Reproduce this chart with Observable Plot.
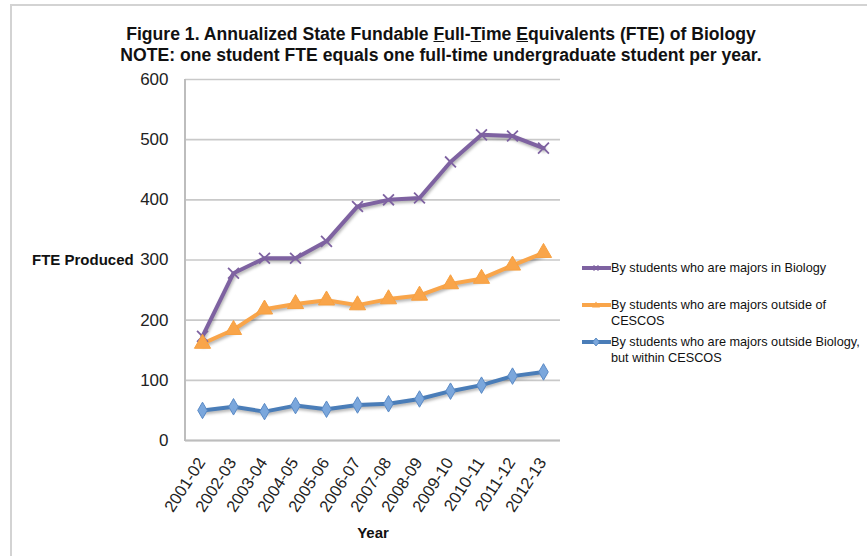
<!DOCTYPE html>
<html><head><meta charset="utf-8">
<script src="https://cdn.jsdelivr.net/npm/d3@7"></script>
<script src="https://cdn.jsdelivr.net/npm/@observablehq/plot@0.6"></script>
<style>
body{margin:0;background:#fff;}
#wrap{position:relative;width:867px;height:556px;overflow:hidden;font-family:"Liberation Sans",Arial,sans-serif;color:#111;}
#border{position:absolute;left:10px;top:4px;width:1000px;height:700px;border:2px solid #d3d3d3;}
#title{position:absolute;left:0;top:23.5px;width:882px;text-align:center;font-weight:bold;font-size:17.6px;line-height:21px;}
#chart{position:absolute;left:0;top:0;}
#ylab{position:absolute;left:32px;top:251px;font-weight:bold;font-size:15px;}
#xlab{position:absolute;left:343px;width:60px;text-align:center;top:524px;font-weight:bold;font-size:15px;}
.leg{position:absolute;left:582px;font-size:12.7px;line-height:16.5px;}
.leg svg{position:absolute;left:0;top:0;}
.leg span{position:absolute;left:29px;top:0;width:280px;}
g[aria-label="line"] path{filter:drop-shadow(1px 2px 1.5px rgba(0,0,0,0.3));}
</style></head>
<body>
<div id="wrap">
  <div id="border"></div>
  <div id="chart"></div>
  <div id="title">Figure 1. Annualized State Fundable <u>F</u>ull-<u>T</u>ime <u>E</u>quivalents (FTE) of Biology<br>NOTE: one student FTE equals one full-time undergraduate student per year.</div>
  <div id="ylab">FTE Produced</div>
  <div id="xlab">Year</div>
  <div id="legend"></div>
</div>
<script>
const years = ["2001-02","2002-03","2003-04","2004-05","2005-06","2006-07","2007-08","2008-09","2009-10","2010-11","2011-12","2012-13"];
const majorsBiology = [173,278,303,303,331,389,400,403,463,508,506,486];
const outsideCescos = [161,184,218,227,233,225,235,241,260,269,291,312];
const withinCescos = [50,56,48,58,52,59,61,69,82,92,107,114];
const yTicks = [0,100,200,300,400,500,600];
const seriesNames = [
  "By students who are majors in Biology",
  "By students who are majors outside of<br>CESCOS",
  "By students who are majors outside Biology,<br>but within CESCOS"
];
const seriesColors = ["#7e62a1","#f9a54a","#4a7db8"];
const seriesFills = ["#7e62a1","#f9a54a","#7ba7dc"];
const seriesSymbols = ["times","triangle","diamond"];

const seriesValues = [majorsBiology, outsideCescos, withinCescos];
const rows = seriesValues.flatMap((vals, s) => vals.map((v, i) => ({year: years[i], value: v, s})));

const marks = [
  Plot.ruleY(yTicks, {stroke: "#c9c9c9", strokeWidth: 1.6}),
  Plot.ruleY([0], {stroke: "#bdbdbd", strokeWidth: 2}),
  (index, scales, values, dims) => {
    const l = document.createElementNS("http://www.w3.org/2000/svg", "line");
    l.setAttribute("x1", dims.marginLeft); l.setAttribute("x2", dims.marginLeft);
    l.setAttribute("y1", scales.y(yTicks[0]) + 1); l.setAttribute("y2", scales.y(yTicks[yTicks.length - 1]));
    l.setAttribute("stroke", "#bdbdbd"); l.setAttribute("stroke-width", 2);
    return l;
  },
  Plot.text(years, {x: d => d, frameAnchor: "bottom", rotate: -57, textAnchor: "end", lineAnchor: "middle", dx: -1, dy: 19, fontSize: 16.5, fill: "#222"})
];
seriesValues.forEach((vals, s) => {
  const d = rows.filter(r => r.s === s);
  marks.push(Plot.line(d, {x: "year", y: "value", stroke: seriesColors[s], strokeWidth: 4, strokeLinejoin: "round"}));
});
seriesValues.forEach((vals, s) => {
  const d = rows.filter(r => r.s === s);
  if (seriesSymbols[s] === "times") {
    marks.push(Plot.dot(d, {x: "year", y: "value", symbol: "times", r: 5, stroke: seriesColors[s], strokeWidth: 1.8}));
  } else if (seriesSymbols[s] === "triangle") {
    marks.push(Plot.dot(d, {x: "year", y: "value", symbol: "triangle", r: 6, fill: seriesFills[s], stroke: "#f7a040", strokeWidth: 1}));
  } else {
    marks.push(Plot.dot(d, {x: "year", y: "value", symbol: "diamond", r: 5, fill: seriesFills[s], stroke: "#5a8ac6", strokeWidth: 1}));
  }
});

const chart = Plot.plot({
  width: 867, height: 556,
  marginTop: 79, marginBottom: 116, marginLeft: 185, marginRight: 307,
  style: {fontSize: "17px", fontFamily: "'Liberation Sans', Arial, sans-serif", color: "#222", background: "transparent", overflow: "visible"},
  x: {type: "point", domain: years, padding: 0.5, axis: null},
  y: {domain: [0, 600], ticks: yTicks, tickSize: 0, tickPadding: 17, label: null},
  marks
});
document.getElementById("chart").appendChild(chart);

const legTops = [259.5, 296.5, 333.5];
const legend = document.getElementById("legend");
seriesNames.forEach((name, s) => {
  const div = document.createElement("div");
  div.className = "leg";
  div.style.top = legTops[s] + "px";
  const sym = s === 0 ? `<path d="M11.5,5.5 l5,5 M16.5,5.5 l-5,5" stroke="${seriesColors[s]}" stroke-width="1.5"/>`
    : s === 1 ? `<path d="M14,4.5 l4,6 h-8z" fill="${seriesFills[s]}"/>`
    : `<path d="M14,4 l3.5,4 l-3.5,4 l-3.5,-4z" fill="${seriesFills[s]}" stroke="${seriesColors[s]}" stroke-width="0.8"/>`;
  div.innerHTML = `<svg width="29" height="17"><line x1="0" x2="29" y1="8" y2="8" stroke="${seriesColors[s]}" stroke-width="4"/>${sym}</svg><span>${name}</span>`;
  legend.appendChild(div);
});
</script>
</body></html>
